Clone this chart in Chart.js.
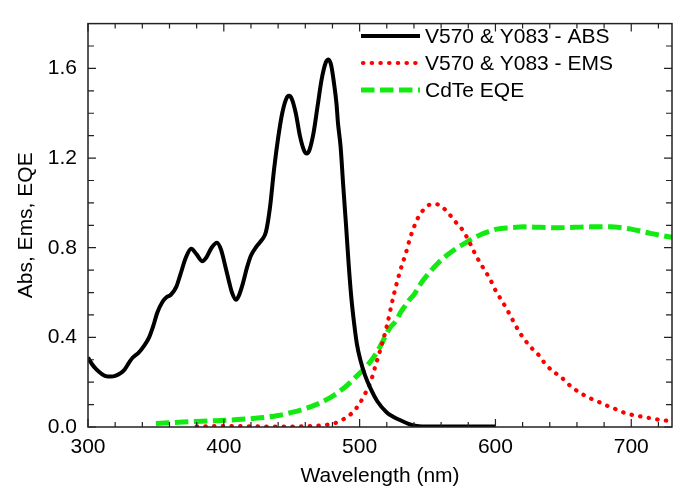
<!DOCTYPE html>
<html>
<head>
<meta charset="utf-8">
<script src="https://cdn.jsdelivr.net/npm/chart.js@4"></script>
<style>
  html, body { margin: 0; padding: 0; background: #fff; }
  #wrap { width: 683px; height: 489px; }
</style>
</head>
<body>
<div id="wrap"><canvas id="spectraChart"></canvas></div>
<script>
// Absorption of V570 & Y083 (wavelength, nm / value)
const absWl = [300, 303, 306, 310, 313, 317, 320, 324, 327, 330, 333, 337, 341, 345, 348, 351, 355, 358, 361, 365,
  368, 372, 376, 380, 384, 387, 391, 395, 398, 401, 404, 406, 409, 411, 414, 417, 420, 424, 428, 431,
  434, 437, 440, 443, 446, 448, 450, 453, 456, 459, 461, 463, 466, 469, 472, 475, 477, 479, 481, 483,
  484, 486, 488, 490, 492, 494, 496, 498, 500.5, 504, 508, 513, 520, 525, 530, 536, 542, 550, 560, 600];
const absVal = [0.31, 0.28, 0.258, 0.237, 0.227, 0.225, 0.228, 0.24, 0.257, 0.285, 0.31, 0.33, 0.36, 0.40, 0.45, 0.51, 0.56, 0.58, 0.59, 0.625,
  0.68, 0.755, 0.795, 0.77, 0.74, 0.755, 0.80, 0.822, 0.79, 0.72, 0.645, 0.60, 0.568, 0.585, 0.64, 0.71, 0.765, 0.805, 0.835, 0.87,
  0.98, 1.15, 1.29, 1.40, 1.465, 1.478, 1.465, 1.40, 1.30, 1.235, 1.22, 1.235, 1.31, 1.43, 1.55, 1.625, 1.64, 1.615, 1.54, 1.44,
  1.36, 1.25, 1.07, 0.90, 0.72, 0.57, 0.46, 0.37, 0.30, 0.23, 0.172, 0.115, 0.065, 0.045, 0.03, 0.014, 0.005, 0.002, 0.002, 0.002];

// Emission of V570 & Y083
const emsWl = [380, 400, 420, 440, 460, 470, 478, 484, 489, 495, 500, 503, 508, 511.5, 515, 520, 525, 530, 534, 537,
  541, 544, 548, 552, 556, 560, 564, 568, 572, 576, 580, 584, 588, 592, 596, 600, 604, 608, 612, 618,
  622, 627, 632, 636, 642, 648, 653, 658, 663, 669, 675, 681, 687, 692, 698, 704, 710, 716, 722, 730];
const emsVal = [0.003, 0.004, 0.003, 0.002, 0.003, 0.006, 0.012, 0.022, 0.038, 0.066, 0.105, 0.137, 0.20, 0.27, 0.34, 0.45, 0.586, 0.70, 0.775, 0.84,
  0.907, 0.945, 0.975, 0.993, 0.995, 0.985, 0.964, 0.935, 0.905, 0.878, 0.835, 0.785, 0.74, 0.70, 0.66, 0.61, 0.57, 0.53, 0.485, 0.42,
  0.386, 0.35, 0.32, 0.287, 0.25, 0.225, 0.195, 0.17, 0.15, 0.13, 0.115, 0.098, 0.084, 0.07, 0.058, 0.05, 0.044, 0.037, 0.031, 0.027];

// CdTe external quantum efficiency
const eqeWl = [350, 370, 390, 410, 425, 440, 450, 460, 468, 478, 485, 491, 497, 503, 509, 515, 522, 527, 530, 534,
  537, 540, 545, 552, 558, 564, 570, 577, 583, 589, 595, 601, 611, 621, 633, 645, 658, 670, 685, 693,
  700, 707, 714, 722, 730];
const eqeVal = [0.016, 0.022, 0.027, 0.033, 0.040, 0.051, 0.065, 0.082, 0.10, 0.13, 0.158, 0.187, 0.222, 0.258, 0.30, 0.358, 0.44, 0.475, 0.51, 0.545,
  0.57, 0.59, 0.64, 0.693, 0.733, 0.765, 0.792, 0.818, 0.84, 0.858, 0.872, 0.883, 0.889, 0.893, 0.891, 0.889, 0.891, 0.893, 0.893, 0.889,
  0.883, 0.874, 0.864, 0.855, 0.846];

const seriesNames = ['V570 & Y083 - ABS', 'V570 & Y083 - EMS', 'CdTe EQE'];

// axis ticks
const xLabelTicks = [300, 400, 500, 600, 700];
const xMinorTicks = [320, 340, 360, 380, 420, 440, 460, 480, 520, 540, 560, 580, 620, 640, 660, 680, 720];
const yLabelTicks = [0.0, 0.4, 0.8, 1.2, 1.6];
const yMinorTicks = [0.1, 0.2, 0.3, 0.5, 0.6, 0.7, 0.9, 1.0, 1.1, 1.3, 1.4, 1.5, 1.7];

const FONT = "'Liberation Sans', Arial, Helvetica, sans-serif";

function toPoints(xs, ys) {
    return xs.map((x, i) => ({ x: x, y: ys[i] }));
}

// frame + inward ticks on all four sides
const frameTicks = {
    id: 'frameTicks',
    afterDatasetsDraw(chart) {
        const { ctx, chartArea: a, scales: { x, y } } = chart;
        ctx.save();
        ctx.strokeStyle = '#222';
        ctx.lineWidth = 1.5;
        ctx.strokeRect(a.left, a.top, a.right - a.left, a.bottom - a.top);
        ctx.lineWidth = 1.2;
        ctx.beginPath();
        const xt = (v, len) => {
            const px = x.getPixelForValue(v);
            ctx.moveTo(px, a.bottom); ctx.lineTo(px, a.bottom - len);
            ctx.moveTo(px, a.top); ctx.lineTo(px, a.top + len);
        };
        const yt = (v, len) => {
            const py = y.getPixelForValue(v);
            ctx.moveTo(a.left, py); ctx.lineTo(a.left + len, py);
            ctx.moveTo(a.right, py); ctx.lineTo(a.right - len, py);
        };
        xLabelTicks.forEach(v => xt(v, 8));
        xMinorTicks.forEach(v => xt(v, 5));
        yLabelTicks.forEach(v => yt(v, 8));
        yMinorTicks.forEach(v => yt(v, 6));
        ctx.stroke();
        ctx.restore();
    }
};

// legend drawn inside the plot, top right
const insideLegend = {
    id: 'insideLegend',
    afterDraw(chart) {
        const { ctx } = chart;
        ctx.save();
        ctx.font = '21px ' + FONT;
        ctx.textBaseline = 'middle';
        ctx.fillStyle = '#000';
        chart.data.datasets.forEach((ds, i) => {
            const yPos = 36 + i * 27;
            ctx.beginPath();
            ctx.strokeStyle = ds.borderColor;
            ctx.lineWidth = ds.borderWidth;
            ctx.lineCap = ds.borderCapStyle || 'butt';
            ctx.setLineDash(ds.borderDash || []);
            ctx.moveTo(i === 1 ? 363 : 361, yPos);
            ctx.lineTo(420, yPos);
            ctx.stroke();
            ctx.setLineDash([]);
            ctx.fillText(ds.label, 425, yPos + 1);
        });
        ctx.restore();
    }
};

function renderSpectraChart() {
    const ctx = document.getElementById('spectraChart').getContext('2d');

    window.spectraChart = new Chart(ctx, {
        type: 'line',
        data: {
            datasets: [{
                label: seriesNames[0],
                data: toPoints(absWl, absVal),
                borderColor: '#000000',
                borderWidth: 4,
                borderCapStyle: 'butt'
            }, {
                label: seriesNames[1],
                data: toPoints(emsWl, emsVal),
                borderColor: '#ff0000',
                borderWidth: 4.2,
                borderCapStyle: 'round',
                borderDash: [0.4, 8.3]
            }, {
                label: seriesNames[2],
                data: toPoints(eqeWl, eqeVal),
                borderColor: '#12ea12',
                borderWidth: 5,
                borderCapStyle: 'butt',
                borderDash: [13.5, 5.5]
            }]
        },
        options: {
            responsive: true,
            maintainAspectRatio: false,
            animation: false,
            devicePixelRatio: 1,
            layout: { padding: { top: 6, right: 11, left: 0, bottom: 0 } },
            elements: {
                point: { radius: 0 },
                line: { cubicInterpolationMode: 'monotone', fill: false }
            },
            plugins: {
                legend: { display: false },
                tooltip: { enabled: false }
            },
            scales: {
                x: {
                    type: 'linear',
                    min: 300,
                    max: 730,
                    afterFit: s => { s.height = 62; },
                    grid: { display: false, drawTicks: false },
                    border: { display: false },
                    ticks: {
                        stepSize: 100,
                        includeBounds: false,
                        padding: 8,
                        color: '#000',
                        font: { family: FONT, size: 21, lineHeight: 1.2 },
                        maxRotation: 0,
                        callback: v => xLabelTicks.includes(v) ? String(v) : ''
                    },
                    title: {
                        display: true,
                        text: 'Wavelength (nm)',
                        color: '#000',
                        font: { family: FONT, size: 21, lineHeight: 1.2 },
                        padding: { top: 0, bottom: 0 }
                    }
                },
                y: {
                    min: 0,
                    max: 1.8,
                    afterFit: s => { s.width = 88; },
                    grid: { display: false, drawTicks: false },
                    border: { display: false },
                    ticks: {
                        stepSize: 0.4,
                        includeBounds: false,
                        padding: 11,
                        color: '#000',
                        font: { family: FONT, size: 21, lineHeight: 1.2 },
                        callback: v => v.toFixed(1)
                    },
                    title: {
                        display: true,
                        text: 'Abs, Ems, EQE',
                        color: '#000',
                        font: { family: FONT, size: 21, lineHeight: 1.2 },
                        padding: { top: 14, bottom: 0 }
                    }
                }
            }
        },
        plugins: [frameTicks, insideLegend]
    });
}

document.addEventListener('DOMContentLoaded', () => {
    renderSpectraChart();
});
</script>
</body>
</html>
